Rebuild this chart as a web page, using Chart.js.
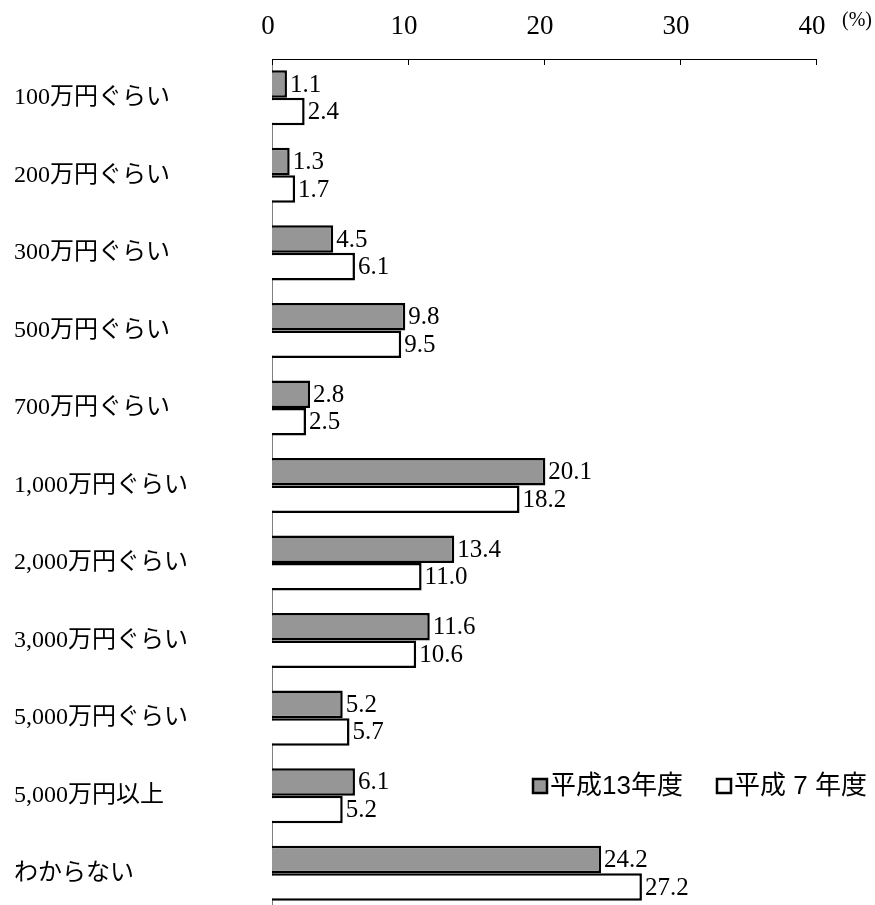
<!DOCTYPE html>
<html>
<head>
<meta charset="utf-8">
<script src="https://cdn.jsdelivr.net/npm/chart.js@4/dist/chart.umd.min.js"></script>
<style>
html,body{margin:0;padding:0;background:#fff;overflow:hidden;}
#wrap{width:875px;height:905px;overflow:hidden;}
</style>
</head>
<body>
<div id="wrap"><canvas id="c" width="875" height="916"></canvas></div>
<script>
const categories = ["100万円ぐらい","200万円ぐらい","300万円ぐらい","500万円ぐらい","700万円ぐらい","1,000万円ぐらい","2,000万円ぐらい","3,000万円ぐらい","5,000万円ぐらい","5,000万円以上","わからない"];
const seriesNames = ["平成13年度","平成 7 年度"];
const valuesH13 = [1.1,1.3,4.5,9.8,2.8,20.1,13.4,11.6,5.2,6.1,24.2];
const valuesH7  = [2.4,1.7,6.1,9.5,2.5,18.2,11.0,10.6,5.7,5.2,27.2];
const xTicks = [0,10,20,30,40];
const unitLabel = "(%)";

const SERIF = '"Liberation Serif", "Noto Sans CJK JP", serif';
const SANS = '"Liberation Sans", "Noto Sans CJK JP", sans-serif';
const fills = ["#969696","#ffffff"];

const extras = {
  id:'extras',
  afterDatasetsDraw(chart){
    const ctx = chart.ctx;
    ctx.save();
    // value labels
    ctx.font = '25px ' + SERIF;
    ctx.fillStyle = '#000';
    ctx.textAlign = 'left';
    ctx.textBaseline = 'middle';
    chart.data.datasets.forEach((ds, di) => {
      const meta = chart.getDatasetMeta(di);
      meta.data.forEach((bar, i) => {
        ctx.fillText(ds.data[i].toFixed(1), bar.x + 3, bar.y + 1);
      });
    });
    // inward tick marks on top axis
    const xs = chart.scales.x;
    const top = chart.chartArea.top;
    ctx.strokeStyle = '#000';
    ctx.lineWidth = 1;
    xTicks.forEach(v => {
      const px = Math.round(xs.getPixelForValue(v)) + 0.5;
      ctx.beginPath();
      ctx.moveTo(px, top);
      ctx.lineTo(px, top + 6);
      ctx.stroke();
    });
    // unit label
    ctx.font = '20px ' + SERIF;
    ctx.textAlign = 'left';
    ctx.fillText(unitLabel, xs.getPixelForValue(40) + 26, 21);
    // legend
    ctx.font = '26px ' + SANS;
    ctx.textBaseline = 'middle';
    const ly = 786;
    const x0 = chart.chartArea.right - 283;
    chart.data.datasets.forEach((ds, di) => {
      const lx = x0 + di * 184;
      ctx.fillStyle = fills[di];
      ctx.fillRect(lx, ly - 7, 14, 14);
      ctx.strokeStyle = '#000';
      ctx.lineWidth = 2.5;
      ctx.strokeRect(lx, ly - 7, 14, 14);
      ctx.fillStyle = '#000';
      ctx.fillText(ds.label, lx + 17, ly + 1);
    });
    ctx.restore();
  }
};

new Chart(document.getElementById('c'), {
  type: 'bar',
  data: {
    labels: categories,
    datasets: [
      {label: seriesNames[0], data: valuesH13, backgroundColor: fills[0], borderColor:'#000', borderWidth:2.5, categoryPercentage:0.71, barPercentage:1.0},
      {label: seriesNames[1], data: valuesH7, backgroundColor: fills[1], borderColor:'#000', borderWidth:2.5, categoryPercentage:0.71, barPercentage:1.0}
    ]
  },
  options: {
    indexAxis: 'y',
    responsive: false,
    animation: false,
    devicePixelRatio: 1,
    layout: {padding: {left: 14, right: 59, top: 0, bottom: 4}},
    plugins: {legend: {display:false}, tooltip: {enabled:false}},
    scales: {
      x: {
        position: 'top',
        min: 0, max: 40,
        afterBuildTicks: (s) => { s.ticks = xTicks.map(v => ({value: v})); },
        afterFit: (s) => { s.height = 59; s.paddingLeft = 0; s.paddingRight = 0; },
        grid: {display:false, drawTicks:false},
        border: {display:true, color:'#000', width:1},
        ticks: {color:'#000', font:{family:SERIF, size:27}, padding:16, maxRotation:0, labelOffset:-4}
      },
      y: {
        afterFit: (s) => { s.width = 258; s.paddingTop = 0; s.paddingBottom = 0; },
        grid: {display:false, drawTicks:false},
        border: {display:true, color:'#808080', width:1},
        ticks: {color:'#000', font:{family:SERIF, size:24}, crossAlign:'far', padding:0}
      }
    }
  },
  plugins: [extras]
});
</script>
</body>
</html>
